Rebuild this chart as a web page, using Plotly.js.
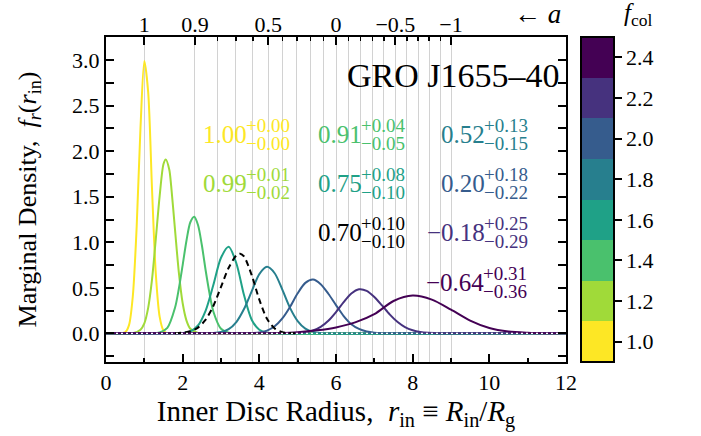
<!DOCTYPE html>
<html>
<head>
<meta charset="utf-8">
<script src="https://cdn.plot.ly/plotly-3.0.1.min.js"></script>
<style>html,body{margin:0;padding:0;background:#fff;}#chart{width:701px;height:436px;}</style>
</head>
<body>
<div id="chart"></div>
<script>
// ---- data ----
const fColValues = [1.0, 1.2, 1.4, 1.6, 1.8, 2.0, 2.2, 2.4];
const fColColors = ["#fde725", "#a0da39", "#4ac16d", "#1fa187", "#277f8e", "#365c8d", "#46327e", "#440154"];

const r_f10 = [0, 0.4, 0.5, 0.6, 0.7, 0.8, 0.9, 1.0, 1.1, 1.2, 1.3, 1.4, 1.5, 1.6, 1.7, 12];
const d_f10 = [0, 0, 0.01, 0.09, 0.41, 1.17, 2.26, 2.99, 2.65, 1.59, 0.65, 0.18, 0.03, 0, 0, 0];
const r_f12 = [0, 0.7, 0.9, 1.0, 1.1, 1.2, 1.3, 1.4, 1.5, 1.56, 1.65, 1.7, 1.8, 1.9, 2.0, 2.1, 2.2, 2.4, 2.6, 12];
const d_f12 = [0, 0, 0.04, 0.11, 0.28, 0.59, 1.04, 1.51, 1.86, 1.91, 1.80, 1.62, 1.14, 0.67, 0.33, 0.14, 0.05, 0.005, 0, 0];
const r_f14 = [0, 1.2, 1.4, 1.6, 1.8, 1.9, 2.0, 2.1, 2.2, 2.3, 2.4, 2.5, 2.6, 2.7, 2.8, 3.0, 3.2, 3.4, 12];
const d_f14 = [0, 0, 0.01, 0.06, 0.28, 0.49, 0.75, 1.02, 1.22, 1.28, 1.19, 0.97, 0.69, 0.44, 0.24, 0.05, 0.006, 0, 0];
const r_f16 = [0, 1.8, 2.0, 2.2, 2.4, 2.6, 2.8, 3.0, 3.2, 3.4, 3.6, 3.8, 4.0, 4.2, 4.4, 12];
const d_f16 = [0, 0, 0.004, 0.02, 0.086, 0.25, 0.53, 0.83, 0.95, 0.77, 0.42, 0.15, 0.039, 0.006, 0, 0];
const r_f18 = [0, 2.4, 2.6, 2.8, 3.0, 3.2, 3.4, 3.6, 3.8, 4.0, 4.2, 4.4, 4.6, 4.8, 5.0, 5.2, 5.4, 5.6, 5.8, 12];
const d_f18 = [0, 0, 0.001, 0.003, 0.014, 0.046, 0.124, 0.267, 0.46, 0.65, 0.73, 0.66, 0.48, 0.28, 0.135, 0.052, 0.016, 0.004, 0, 0];
const r_f20 = [0, 3.4, 3.6, 3.8, 4.0, 4.2, 4.4, 4.6, 4.8, 5.0, 5.2, 5.4, 5.6, 5.8, 6.0, 6.2, 6.4, 6.6, 6.8, 7.0, 7.2, 7.4, 12];
const d_f20 = [0, 0, 0.001, 0.003, 0.01, 0.03, 0.077, 0.164, 0.29, 0.44, 0.554, 0.59, 0.54, 0.435, 0.31, 0.19, 0.10, 0.048, 0.02, 0.007, 0.002, 0, 0];
const r_f22 = [0, 4.4, 4.8, 5.0, 5.2, 5.4, 5.6, 5.8, 6.0, 6.2, 6.4, 6.6, 6.8, 7.0, 7.2, 7.4, 7.6, 7.8, 8.0, 8.2, 8.4, 8.6, 8.8, 12];
const d_f22 = [0, 0, 0.001, 0.004, 0.012, 0.031, 0.071, 0.138, 0.234, 0.343, 0.438, 0.484, 0.467, 0.40, 0.307, 0.208, 0.126, 0.068, 0.033, 0.014, 0.005, 0.002, 0, 0];
const r_f24 = [0, 3.5, 4.0, 4.5, 5.0, 5.5, 6.0, 6.5, 7.0, 7.5, 8.0, 8.5, 9.0, 9.5, 10.0, 10.5, 11.0, 11.5, 12];
const d_f24 = [0, 0, 0.001, 0.004, 0.013, 0.033, 0.065, 0.12, 0.21, 0.355, 0.415, 0.37, 0.26, 0.14, 0.058, 0.019, 0.006, 0.001, 0];
const r_combined = [1.8, 2.0, 2.2, 2.4, 2.6, 2.8, 3.0, 3.2, 3.4, 3.5, 3.6, 3.8, 4.0, 4.2, 4.4, 4.6, 4.8, 5.0];
const d_combined = [0, 0.007, 0.022, 0.063, 0.15, 0.30, 0.51, 0.72, 0.856, 0.875, 0.845, 0.64, 0.37, 0.16, 0.053, 0.013, 0.003, 0];

const curveR = [r_f10, r_f12, r_f14, r_f16, r_f18, r_f20, r_f22, r_f24];
const curveD = [d_f10, d_f12, d_f14, d_f16, d_f18, d_f20, d_f22, d_f24];

const spinMain = ["1.00", "0.99", "0.91", "0.75", "0.70", "0.52", "0.20", "\u22120.18", "\u22120.64"];
const spinUp   = ["+0.00", "+0.01", "+0.04", "+0.08", "+0.10", "+0.13", "+0.18", "+0.25", "+0.31"];
const spinDn   = ["\u22120.00", "\u22120.02", "\u22120.05", "\u22120.10", "\u22120.10", "\u22120.15", "\u22120.22", "\u22120.29", "\u22120.36"];
const spinColors = ["#fde725", "#a0da39", "#4ac16d", "#1fa187", "#000000", "#277f8e", "#365c8d", "#46327e", "#440154"];

const iscoR = [1.0, 2.32, 2.91, 3.39, 3.83, 4.23, 4.61, 4.98, 5.33, 5.67, 6.0, 6.32, 6.64, 6.95, 7.25, 7.55, 7.85, 8.14, 8.43, 8.72, 9.0];
const spinLabelR = [1.0, 2.32, 4.23, 6.0, 7.55, 9.0];
const spinLabels = ["1", "0.9", "0.5", "0", "\u22120.5", "\u22121"];

const xTicks = [0, 2, 4, 6, 8, 10, 12];
const yTicks = [0, 0.5, 1.0, 1.5, 2.0, 2.5, 3.0];
const yTickText = ["0.0", "0.5", "1.0", "1.5", "2.0", "2.5", "3.0"];
const cbTickText = ["1.0", "1.2", "1.4", "1.6", "1.8", "2.0", "2.2", "2.4"];

// ---- geometry helpers (layout only) ----
const L = 106, R = 135, T = 37, B = 74, W = 701, H = 436;
const PW = W - L - R, PH = H - T - B;
const px = x => (x - L) / PW;
const py = y => (H - B - y) / PH;

const FONT = "Liberation Serif, Times New Roman, serif";

const traces = [];
for (let i = 0; i < curveR.length; i++) {
  traces.push({
    type: "scatter", mode: "lines", x: curveR[i], y: curveD[i],
    line: {color: fColColors[i], width: 2, shape: "spline", smoothing: 0.8},
    hoverinfo: "skip", showlegend: false
  });
}
traces.push({
  type: "scatter", mode: "lines", x: r_combined, y: d_combined,
  line: {color: "#000", width: 2, dash: "6px,4px", shape: "spline", smoothing: 0.8},
  hoverinfo: "skip", showlegend: false
});
traces.push({
  type: "scatter", mode: "lines", x: [0, 12], y: [0, 0],
  line: {color: "#ffffff", width: 1.2, dash: "2px,3px"},
  hoverinfo: "skip", showlegend: false
});
// colour bar carrier
const cscale = [];
fColColors.forEach((c, i) => { cscale.push([i / 8, c]); cscale.push([(i + 1) / 8, c]); });
traces.push({
  type: "scatter", mode: "markers", x: [-5], y: [-5],
  marker: {color: [1.0], colorscale: cscale, cmin: 0.9, cmax: 2.5, showscale: true, size: 1,
    colorbar: {x: px(581), xanchor: "left", y: 0.5, yanchor: "middle", len: 1, lenmode: "fraction",
      thickness: 33, thicknessmode: "pixels", outlinewidth: 2, outlinecolor: "#000",
      ticks: "outside", ticklen: 7, tickwidth: 2, tickcolor: "#000",
      tickvals: fColValues, ticktext: cbTickText, tickfont: {family: FONT, size: 22, color: "#000"},
      xpad: 0, ypad: 0, borderwidth: 0}},
  hoverinfo: "skip", showlegend: false
});

// ---- annotations ----
const ann = [];
const rightEdge = [247, 247, 362, 362, 362, 485, 485, 485, 484];
const rowY = [134, 183, 134, 183, 232, 134, 183, 232, 282];
for (let i = 0; i < spinMain.length; i++) {
  ann.push({xref: "paper", yref: "paper", x: px(rightEdge[i]), y: py(rowY[i]), xanchor: "right", yanchor: "middle",
    text: spinMain[i], showarrow: false, borderpad: 0, borderwidth: 0, font: {family: FONT, size: 25, color: spinColors[i]}});
  ann.push({xref: "paper", yref: "paper", x: px(rightEdge[i] - 1), y: py(rowY[i] - 9), xanchor: "left", yanchor: "middle",
    text: spinUp[i], showarrow: false, borderpad: 0, borderwidth: 0, font: {family: FONT, size: 19, color: spinColors[i]}});
  ann.push({xref: "paper", yref: "paper", x: px(rightEdge[i] - 1), y: py(rowY[i] + 9), xanchor: "left", yanchor: "middle",
    text: spinDn[i], showarrow: false, borderpad: 0, borderwidth: 0, font: {family: FONT, size: 19, color: spinColors[i]}});
}
ann.push({xref: "paper", yref: "paper", x: px(561), y: py(75), xanchor: "right", yanchor: "middle",
  text: "GRO J1655\u201340", showarrow: false, borderpad: 0, font: {family: FONT, size: 34, color: "#000"}});
ann.push({xref: "paper", yref: "paper", x: px(537), y: py(14), xanchor: "center", yanchor: "middle",
  text: "\u2190 <i>a</i>", showarrow: false, borderpad: 0, font: {family: FONT, size: 27, color: "#000"}});
ann.push({xref: "paper", yref: "paper", x: px(638), y: py(15), xanchor: "center", yanchor: "middle",
  text: "<i>f</i><sub>col</sub>", showarrow: false, borderpad: 0, font: {family: FONT, size: 25, color: "#000"}});

const layout = {
  width: W, height: H,
  margin: {l: L, r: R, t: T, b: B, pad: 0},
  paper_bgcolor: "#fff", plot_bgcolor: "#fff",
  showlegend: false,
  font: {family: FONT, color: "#000"},
  xaxis: {
    range: [0, 12], tickvals: xTicks, ticktext: xTicks.map(String),
    ticks: "inside", ticklen: 8, tickwidth: 2, tickcolor: "#000",
    minor: {dtick: 1, tick0: 0, ticks: "inside", ticklen: 4, tickwidth: 2, tickcolor: "#000", showgrid: false},
    showline: true, linewidth: 2, linecolor: "#000", mirror: true,
    showgrid: false, zeroline: false,
    tickfont: {family: FONT, size: 22},
    title: {text: "Inner Disc Radius,  <i>r</i><sub>in</sub> \u2261 <i>R</i><sub>in</sub>/<i>R</i><sub>g</sub>",
      font: {family: FONT, size: 29}, standoff: 6}
  },
  xaxis2: {
    overlaying: "x", side: "top", anchor: "y", range: [0, 12],
    tickvals: spinLabelR, ticktext: spinLabels,
    ticks: "inside", ticklen: 8, tickwidth: 2, tickcolor: "#000",
    showline: false, showgrid: false, zeroline: false,
    tickfont: {family: FONT, size: 22}
  },
  xaxis3: {
    overlaying: "x", side: "top", anchor: "y", range: [0, 12],
    tickvals: iscoR,
    ticks: "inside", ticklen: 4, tickwidth: 1.5, tickcolor: "#000",
    showline: false, showgrid: true, gridcolor: "#d2d2d2", gridwidth: 1, zeroline: false,
    showticklabels: false
  },
  yaxis: {
    range: [-0.315, 3.255], tickvals: yTicks, ticktext: yTickText,
    ticks: "inside", ticklen: 8, tickwidth: 2, tickcolor: "#000",
    minor: {dtick: 0.25, tick0: 0, ticks: "inside", ticklen: 4, tickwidth: 2, tickcolor: "#000", showgrid: false},
    showline: true, linewidth: 2, linecolor: "#000", mirror: "allticks",
    showgrid: false, zeroline: false,
    tickfont: {family: FONT, size: 22},
    title: {text: "Marginal Density,  <i>f</i><sub><i>r</i></sub>(<i>r</i><sub>in</sub>)",
      font: {family: FONT, size: 26}, standoff: 28}
  },
  annotations: ann
};

// dummy traces to activate the overlay axes
traces.unshift({type: "scatter", x: [null], y: [null], xaxis: "x3", yaxis: "y", hoverinfo: "skip", showlegend: false});
traces.unshift({type: "scatter", x: [null], y: [null], xaxis: "x2", yaxis: "y", hoverinfo: "skip", showlegend: false});

Plotly.newPlot("chart", traces, layout, {staticPlot: true, displayModeBar: false});
</script>
</body>
</html>
